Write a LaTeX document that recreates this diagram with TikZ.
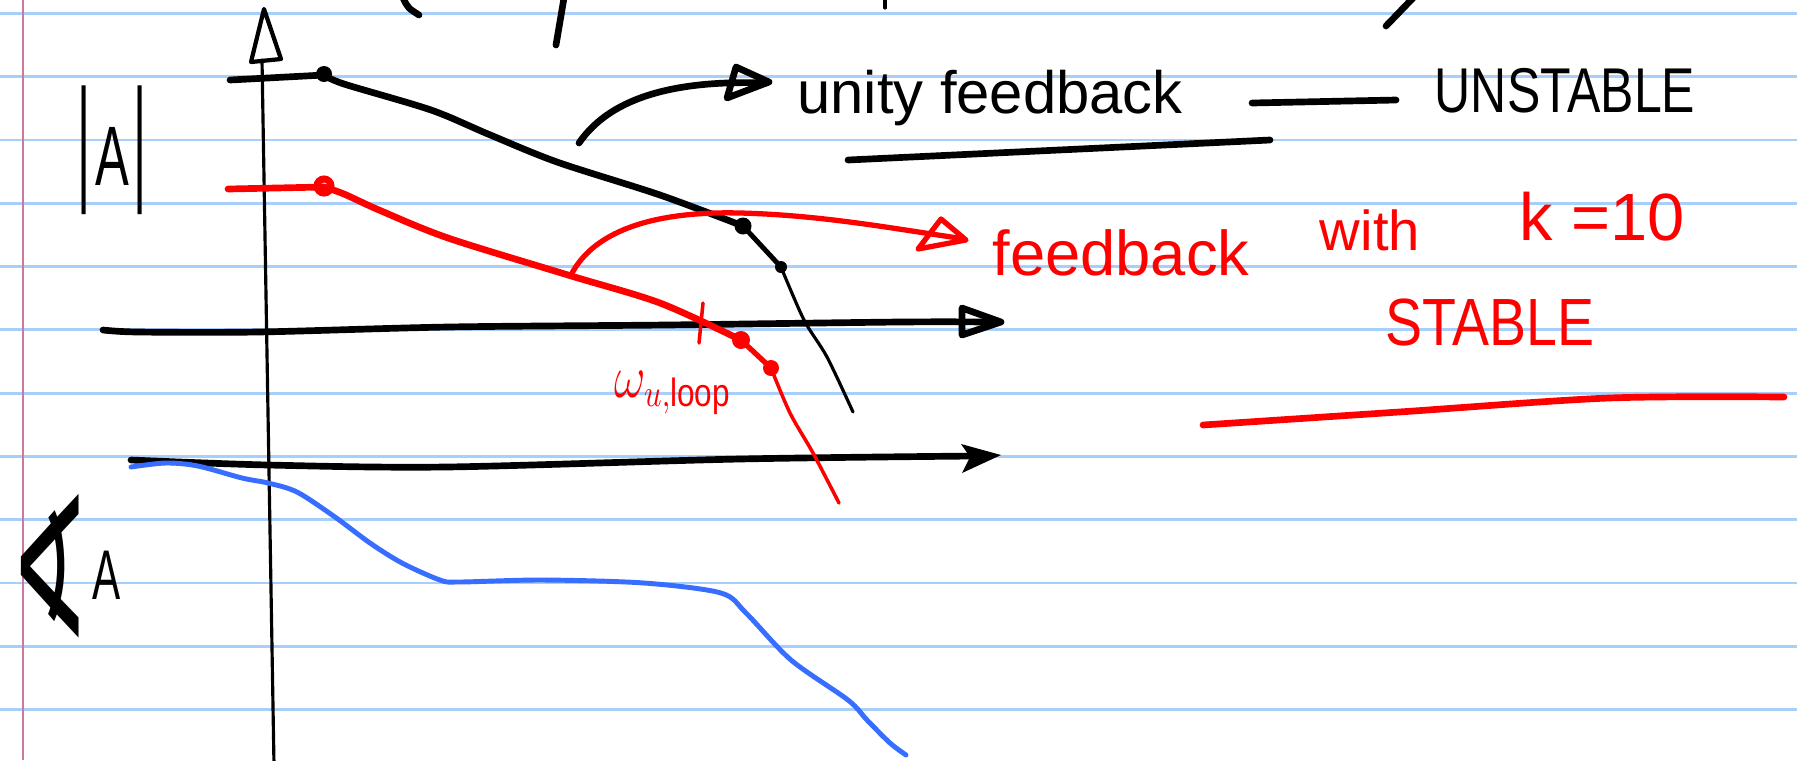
\documentclass[tikz,border=0pt]{standalone}
\usepackage{fontspec}
\setmainfont{Liberation Sans}
\newfontfamily\symfont{DejaVu Sans}
\usetikzlibrary{arrows.meta}
\definecolor{rulecol}{RGB}{168,206,250}
\definecolor{margincol}{RGB}{205,120,160}
\definecolor{penred}{RGB}{255,0,0}
\definecolor{penblue}{RGB}{55,110,255}
\begin{document}
\begin{tikzpicture}[x=0.01cm,y=-0.01cm,
  rulel/.style={rulecol, line width=0.8pt},
  marginl/.style={margincol, line width=0.45pt},
  ink/.style={black, line width=1.9pt, line cap=round, line join=round},
  thinink/.style={black, line width=0.9pt, line cap=round, line join=round},
  redink/.style={penred, line width=1.9pt, line cap=round, line join=round},
  thinred/.style={penred, line width=1.0pt, line cap=round, line join=round},
  blueink/.style={penblue, line width=1.4pt, line cap=round, line join=round},
  hand/.style={inner sep=0pt, anchor=base},
]
\useasboundingbox (0,0) rectangle (1797,760);
\begin{scope}
\clip (0,0) rectangle (1797,760);
\fill[white] (0,0) rectangle (1797,760);
% ruled paper
\foreach \k in {0,...,11}{
  \draw[rulel] (0,{13.3+63.3*\k}) -- (1797,{13.3+63.3*\k});
}
\draw[marginl] (23,0) -- (23,760);

% fragments of the line above
\draw[ink] (403,-2) .. controls (408,8) .. (419,15);
\draw[ink] (564,-2) -- (556,45);
\draw[thinink] (885,-2) -- (885,8);
\draw[ink] (1413,-2) -- (1386,26);

% vertical axis
\draw[thinink] (274,765) -- (262,60);
\draw[black, line width=1.2pt, line join=round] (251,62) -- (264,9) -- (281,59) -- cycle;

% magnitude axis
\draw[ink] plot[smooth] coordinates {(103,330) (138,332) (258,332) (448,327) (666,325) (900,322) (990,322)};
\draw[ink] (962,308) -- (1001,322) -- (962,335) -- cycle;

% phase axis
\draw[ink] plot[smooth] coordinates {(131,460) (268,465) (446,467) (740,459) (975,456)};
\fill[black] (961,444) -- (1001,455) -- (962,473) -- (970,457) -- cycle;

% black |A| (unity feedback)
\draw[ink] (230,80) -- (324,75);
\draw[ink] plot[smooth] coordinates {(324,75) (344,84) (431,110) (488,134) (557,162) (660,195) (743,226)};
\draw[black, line width=1.4pt, line cap=round] (743,226) -- (781,267);
\draw[thinink] plot[smooth] coordinates {(781,267) (804,320) (827,357) (853,412)};
\fill[black] (324,74) circle[radius=0.08cm];
\fill[black] (743,226) circle[radius=0.085cm];
\fill[black] (781,267) circle[radius=0.06cm];

% red |A| (k=10)
\draw[redink] (228,189) -- (324,187);
\draw[redink] plot[smooth] coordinates {(324,187) (344,194) (379,210) (448,238) (568,275) (660,303) (741,340)};
\draw[penred, line width=1.5pt, line cap=round] (741,340) -- (771,368);
\draw[thinred] plot[smooth] coordinates {(771,368) (790,413) (813,453) (839,503)};
\draw[penred, line width=2pt] (324,186) circle[radius=0.07cm];
\fill[penred] (741,340) circle[radius=0.09cm];
\fill[penred] (771,368) circle[radius=0.08cm];
\draw[thinred] (703,303) -- (699,343);

% blue phase
\draw[blueink] plot[smooth] coordinates {(131,467) (166,463) (198,466) (242,478) (268,483) (297,492) (335,517) (370,543) (402,563) (440,580) (459,582) (542,580) (644,583) (721,593) (746,613) (791,660) (848,700) (867,720) (890,743) (906,755)};

% annotation arrows
\coordinate (ustart) at (579,143);
\coordinate (uend) at (766,83);
\draw[ink] (ustart) .. controls (612,95) and (680,80) .. (uend);
\draw[ink] (736,67) -- (769,82) -- (727,98) -- cycle;

\coordinate (rstart) at (571,275);
\coordinate (rpeak) at (740,213);
\coordinate (rend) at (958,238);
\draw[redink, line width=1.5pt] (rstart) .. controls (595,228) and (660,211) .. (rpeak) .. controls (820,215) and (890,228) .. (rend);
\draw[redink, line width=1.5pt] (941,219) -- (966,240) -- (918,249) -- cycle;

% underline, dash, red line
\draw[ink] (848,160) -- (1270,140);
\draw[ink] (1252,103) -- (1396,100);
\draw[redink] plot[smooth] coordinates {(1203,425) (1399,412) (1609,398) (1784,397)};
\end{scope}

% labels
\node[hand, font=\fontsize{24}{24}\selectfont] (magA) at (112,185)
  {\scalebox{0.6}[1]{\scalebox{1}[1.63]{|}\hspace{2pt}A\hspace{2pt}\scalebox{1}[1.63]{|}}};
\node[inner sep=0pt, anchor=base west] (angA) at (10,637)
  {{\symfont\fontsize{28}{28}\selectfont\scalebox{0.95}[2.0]{∢}}\hspace{1pt}{\fontsize{20}{20}\selectfont\raisebox{10.8pt}{\scalebox{0.6}[1]{A}}}};

\node[hand, font=\fontsize{17}{17}\selectfont] (unity) at (990,113) {unity feedback};
\node[hand, font=\fontsize{18}{18}\selectfont] (unstable) at (1565,112) {\scalebox{0.79}[1]{UNSTABLE}};
\node[hand, text=penred, font=\fontsize{18}{18}\selectfont] (fbk) at (1121,275) {feedback};
\node[hand, text=penred, font=\fontsize{16}{16}\selectfont] (with) at (1370,250) {with};
\node[hand, text=penred, font=\fontsize{19}{19}\selectfont] (keq) at (1602,240) {k =10};
\node[hand, text=penred, font=\fontsize{19}{19}\selectfont] (stable) at (1490,345) {\scalebox{0.83}[1]{STABLE}};
\node[hand, text=penred, font=\fontsize{16}{16}\selectfont] (wloop) at (673,397) {\scalebox{0.8}[1]{$\omega_{u,\mathrm{loop}}$}};
\end{tikzpicture}
\end{document}
